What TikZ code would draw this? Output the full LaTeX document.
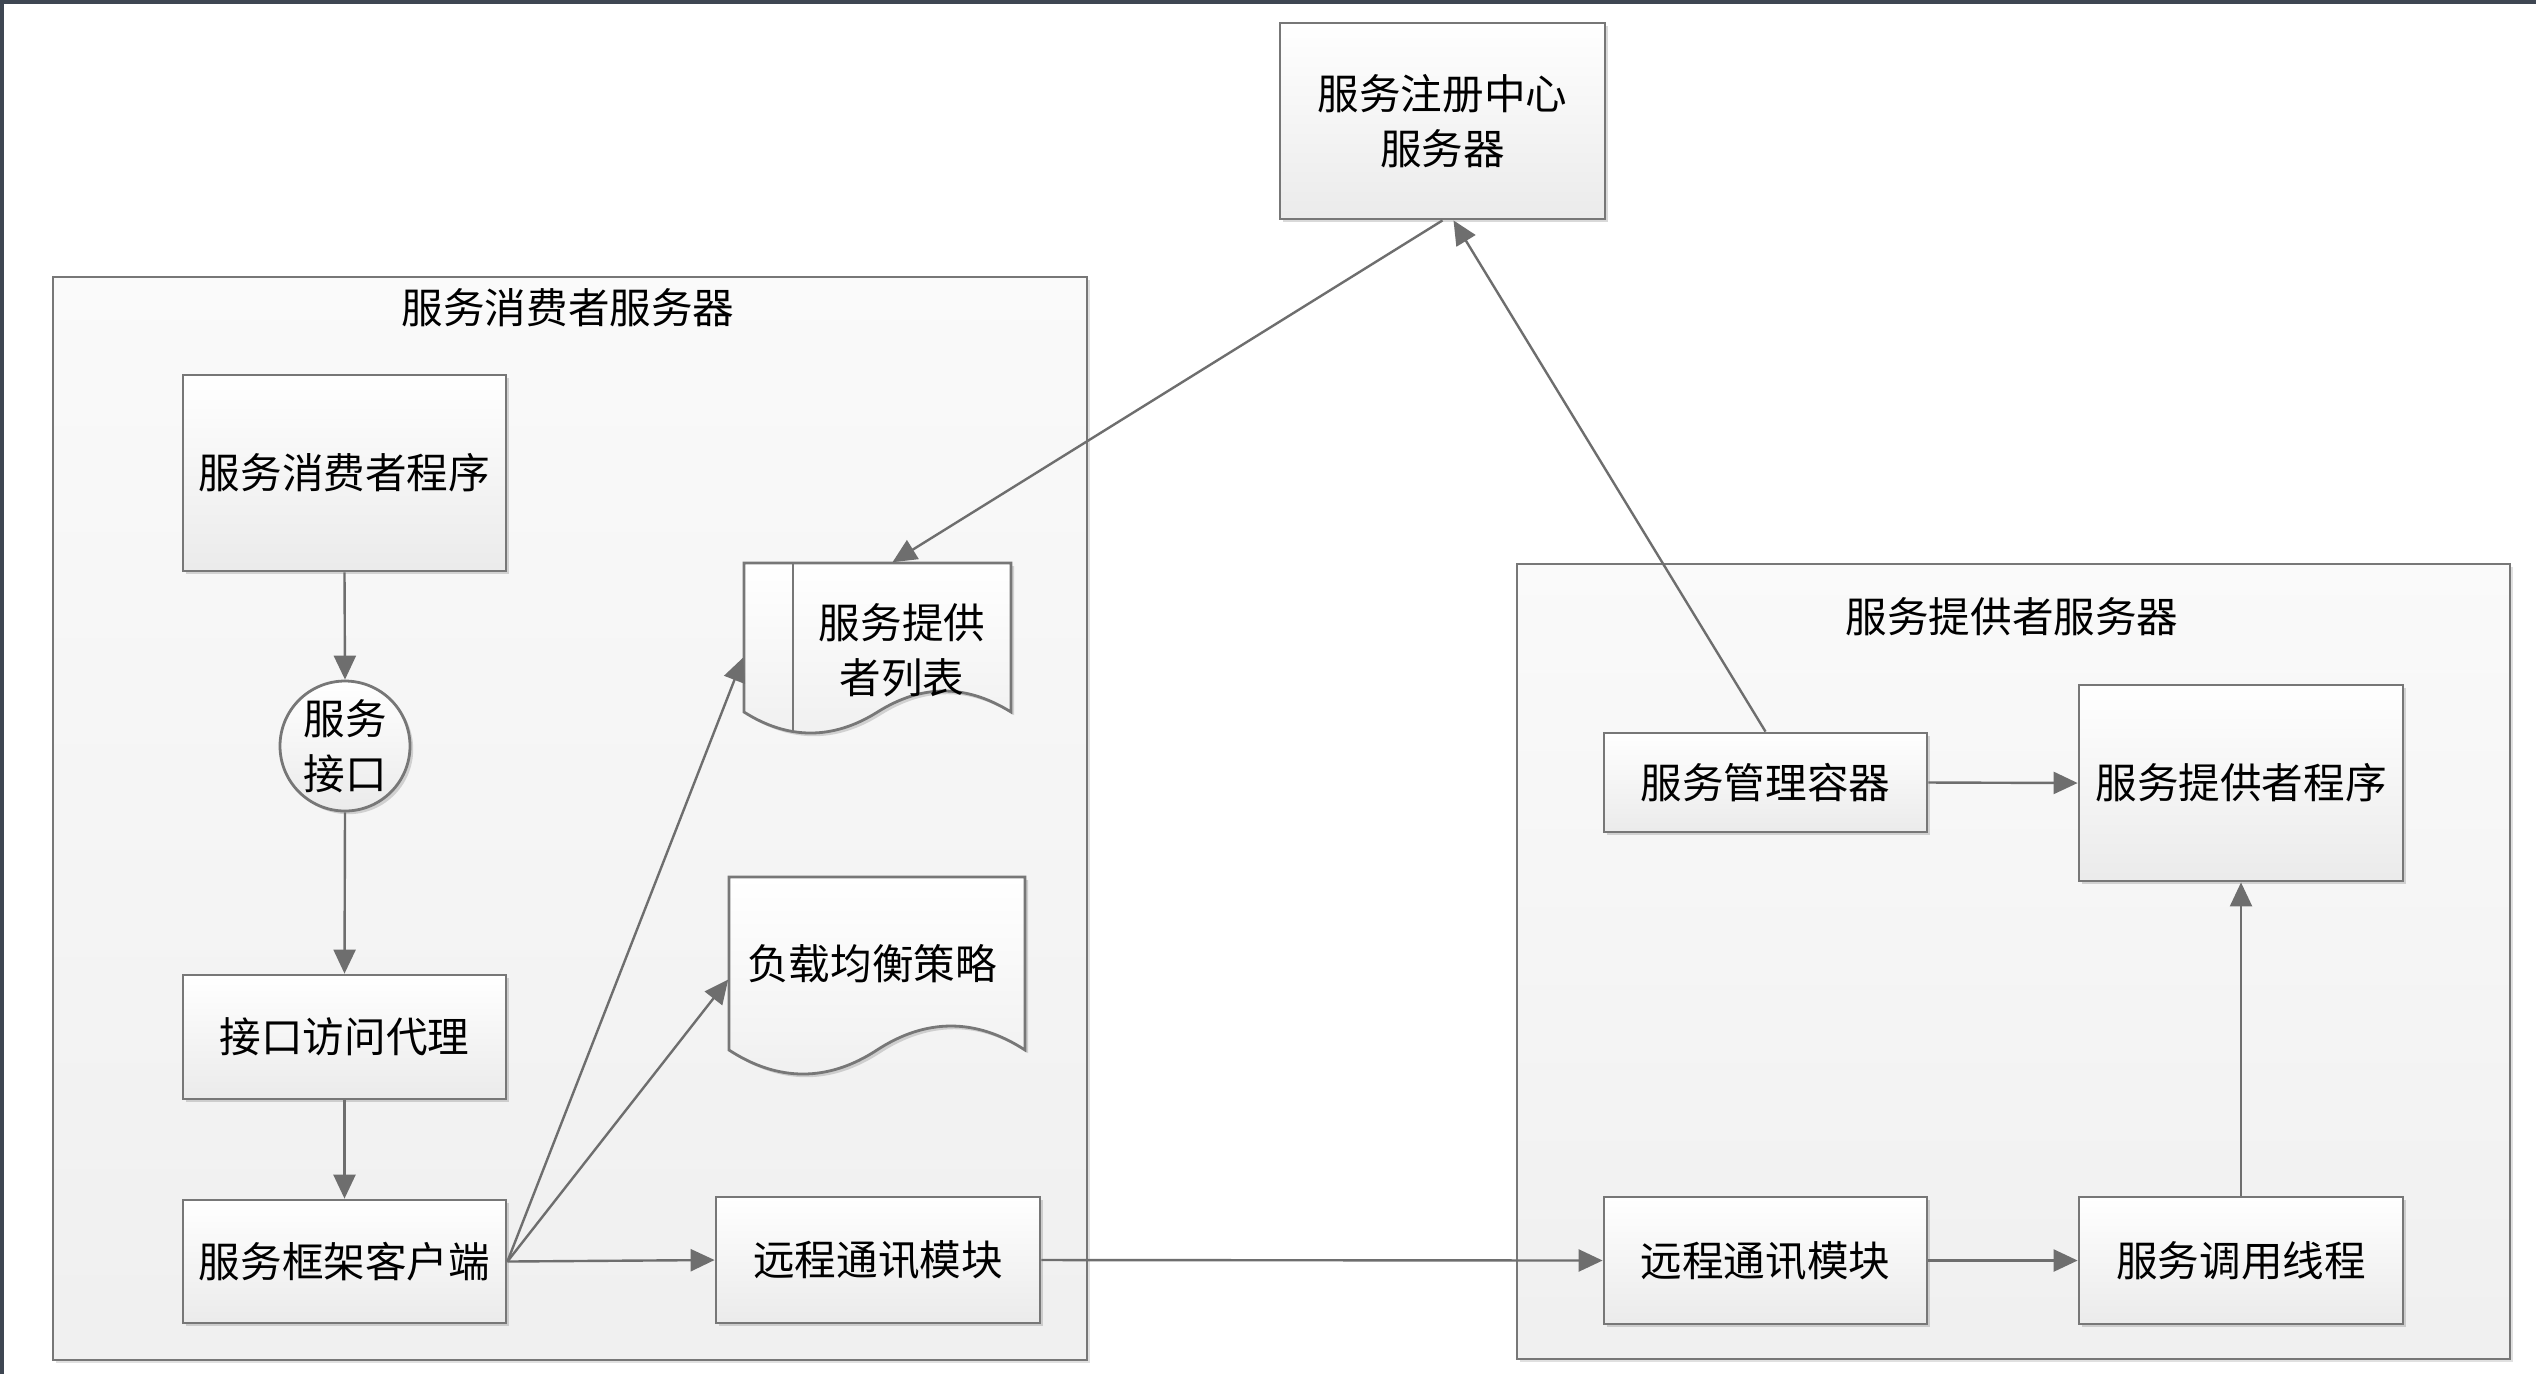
\documentclass[tikz,border=0pt]{standalone}
\usepackage{fontspec}
\setmainfont{Noto Sans CJK SC}
\usetikzlibrary{arrows.meta,shadows,calc}
\definecolor{linegray}{HTML}{6E6E6E}
\definecolor{boxborder}{HTML}{777777}
\definecolor{framedark}{HTML}{3E4652}
\begin{document}
\begin{tikzpicture}[x=0.25pt,y=-0.25pt,
  font=\fontsize{10.4pt}{13.8pt}\selectfont,
  box/.style={draw=boxborder, line width=0.7pt, top color=white, bottom color=black!8,
    drop shadow={shadow xshift=0.8pt, shadow yshift=-0.8pt, opacity=0.15, fill=black},
    align=center, inner sep=0pt},
  container/.style={draw=boxborder, line width=0.7pt, top color=black!2, bottom color=black!6,
    drop shadow={shadow xshift=0.8pt, shadow yshift=-0.8pt, opacity=0.12, fill=black},
    inner sep=0pt},
  docshape/.style={draw=boxborder, line width=0.7pt, top color=white, bottom color=black!6,
    drop shadow={shadow xshift=0.8pt, shadow yshift=-0.8pt, opacity=0.15, fill=black}},
  conn/.style={draw=linegray, line width=0.6pt, -{Triangle[length=6pt,width=5.5pt]}},
  plain/.style={draw=linegray, line width=0.6pt}]
\useasboundingbox (0,0) rectangle (2536,1374);
\fill[white] (0,0) rectangle (2536,1374);
\fill[framedark] (0,0) rectangle (2536,4);
\fill[framedark] (0,0) rectangle (4,1374);

% containers
\node[container, minimum width=258.5pt, minimum height=270.75pt] (cons) at (570,818.5) {};
\node[container, minimum width=248.25pt, minimum height=198.75pt] (prov) at (2013.5,961.5) {};
\node (constitle) at (568,308) {服务消费者服务器};
\node (provtitle) at (2012,617) {服务提供者服务器};

% registry
\node[box, minimum width=81.25pt, minimum height=49pt] (reg) at (1442.5,121) {服务注册中心\\服务器};

% consumer side
\node[box, minimum width=80.75pt, minimum height=49pt] (cprog) at (344.5,473) {服务消费者程序};
\node[box, circle, minimum size=32.5pt] (iface) at (345,746) {服务\\接口};
\node[box, minimum width=80.75pt, minimum height=31pt] (proxy) at (344.5,1037) {接口访问代理};
\node[box, minimum width=80.75pt, minimum height=30.75pt] (client) at (344.5,1261.5) {服务框架客户端};
\node[box, minimum width=81pt, minimum height=31.5pt] (rcl) at (878,1260) {远程通讯模块};

% provider list document
\path[docshape] (744,563) -- (1011,563) -- (1011,712)
  .. controls (966,684) and (922,684) .. (877.5,712)
  .. controls (833,740) and (788,740) .. (744,712) -- cycle;
\draw[draw=boxborder, line width=0.7pt] (793,563) -- (793,732);
\node[inner sep=0pt, minimum width=66.75pt, minimum height=37.25pt] (plistbox) at (877.5,637.5) {};
\node[align=center] (plist) at (902,650) {服务提供\\者列表};

% load balance document
\path[docshape] (729,877) -- (1025,877) -- (1025,1050)
  .. controls (976,1018) and (926,1018) .. (877,1050)
  .. controls (828,1082) and (778,1082) .. (729,1050) -- cycle;
\node[inner sep=0pt, minimum width=74pt, minimum height=43.25pt] (lbbox) at (877,963.5) {};
\node (lb) at (872,964) {负载均衡策略};

% provider side
\node[box, minimum width=80.75pt, minimum height=24.75pt] (mgmt) at (1765.5,782.5) {服务管理容器};
\node[box, minimum width=81pt, minimum height=49pt] (pprog) at (2241,783) {服务提供者程序};
\node[box, minimum width=80.75pt, minimum height=31.75pt] (rcr) at (1765.5,1260.5) {远程通讯模块};
\node[box, minimum width=81pt, minimum height=31.75pt] (thread) at (2241,1260.5) {服务调用线程};

% connectors
\draw[conn] (cprog.south) -- (iface.north);
\draw[conn] (iface.south) -- (proxy.north);
\draw[conn] (proxy.south) -- (client.north);
\draw[conn] (client.east) -- (rcl.west);
\draw[conn] (client.east) -- ($(plistbox.west)+(0,20)$);
\draw[conn] (client.east) -- ($(lbbox.west)+(0,16)$);
\draw[conn] (rcl.east) -- (rcr.west);
\draw[conn] (rcr.east) -- (thread.west);
\draw[conn] (thread.north) -- (pprog.south);
\draw[conn] (mgmt.east) -- (pprog.west);
\draw[conn] (mgmt.north) -- ($(reg.south)+(11,0)$);
\draw[conn] (reg.south) -- ($(plistbox.north)+(15,0)$);
\end{tikzpicture}
\end{document}
